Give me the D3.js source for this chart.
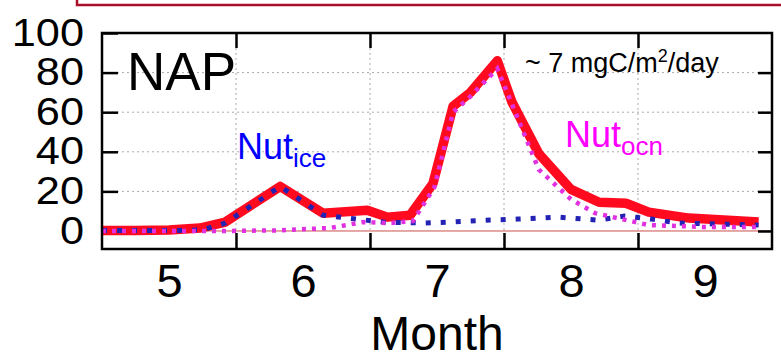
<!DOCTYPE html>
<html>
<head>
<meta charset="utf-8">
<script src="https://cdn.jsdelivr.net/npm/d3@7"></script>
<style>
  body { margin: 0; background: #fff; }
  svg { display: block; font-family: "Liberation Sans", Arial, sans-serif; }
</style>
</head>
<body>
<svg id="chart" width="781" height="359"></svg>
<script>
// series values (x in fractional month, y in NPP units)
const totalMonth = [5.00, 5.25, 5.50, 5.73, 5.92, 6.33, 6.65, 6.98, 7.13, 7.30, 7.47, 7.62, 7.75, 7.95, 8.06, 8.26, 8.50, 8.71, 8.91, 9.08, 9.38, 9.90];
const totalVal   = [0.3, 0.3, 0.5, 1.5, 4.5, 22.5, 9, 10.5, 7, 8, 24, 63, 70, 86, 65, 39, 21, 14.5, 14, 9.5, 6.5, 4.5];

const iceMonth = [5.00, 5.50, 5.75, 5.92, 6.33, 6.65, 6.90, 7.10, 7.40, 7.60, 7.90, 8.10, 8.40, 8.70, 8.90, 9.10, 9.30, 9.90];
const iceVal   = [0.2, 0.2, 0.5, 4, 22.5, 8, 6, 4.5, 4, 4.5, 5.5, 6, 7, 5.5, 7.5, 6, 4, 3];

const ocnMonth = [5.00, 5.90, 6.30, 6.70, 6.95, 7.15, 7.32, 7.48, 7.62, 7.75, 7.95, 8.06, 8.26, 8.50, 8.68, 8.88, 9.08, 9.50, 9.90];
const ocnVal   = [0, 0, 0.3, 1.5, 4.5, 4, 5, 22, 60, 68, 82, 64, 31, 16, 9, 6, 3, 2, 2];

const yTicks = [0, 20, 40, 60, 80, 100];
const gridY = [20, 40, 60, 80];
const monthBounds = [6, 7, 8, 9];
const monthLabels = ["5", "6", "7", "8", "9"];

const svg = d3.select("#chart");
const pLeft = 102, pRight = 772, pTop = 33, pBottom = 249;

const x = d3.scaleLinear().domain([5, 10]).range([pLeft, pRight]);
const y = d3.scaleLinear().domain([-9.1, 100]).range([pBottom, pTop]);

// header box border at the very top
svg.append("rect")
  .attr("x", 77).attr("y", -10)
  .attr("width", 781).attr("height", 15)
  .attr("fill", "none")
  .attr("stroke", "#a8102a")
  .attr("stroke-width", 2.5);

// dotted grid
svg.append("g").selectAll("line").data(gridY).join("line")
  .attr("x1", pLeft).attr("x2", pRight)
  .attr("y1", d => y(d)).attr("y2", d => y(d))
  .attr("stroke", "#aaa").attr("stroke-width", 1).attr("stroke-dasharray", "2,3");
svg.append("g").selectAll("line").data(monthBounds).join("line")
  .attr("x1", d => x(d)).attr("x2", d => x(d))
  .attr("y1", pTop).attr("y2", pBottom)
  .attr("stroke", "#aaa").attr("stroke-width", 1).attr("stroke-dasharray", "2,3");

// thin zero line
svg.append("line")
  .attr("x1", pLeft).attr("x2", pRight)
  .attr("y1", y(0)).attr("y2", y(0))
  .attr("stroke", "#c8504a").attr("stroke-width", 1);

// axes
const tickStyle = g => g.call(g => g.select(".domain").remove())
  .call(g => g.selectAll(".tick line").attr("stroke", "#000").attr("stroke-width", 2.5));

// y labels: slightly wide digits, as in the reference
svg.append("g")
  .attr("transform", `translate(${pLeft},0)`)
  .call(d3.axisLeft(y).tickValues(yTicks).tickSize(-16).tickPadding(18))
  .call(tickStyle)
  .call(g => g.selectAll(".tick text")
    .attr("font-size", 38).attr("fill", "#000")
    .attr("font-family", "Liberation Sans, Arial, sans-serif")
    .attr("transform", "translate(-18,0) scale(1.14,1) translate(18,0)"));

svg.append("g")
  .attr("transform", `translate(${pRight},0)`)
  .call(d3.axisRight(y).tickValues(yTicks.slice(0, 5)).tickSize(-14).tickFormat(""))
  .call(tickStyle);

svg.append("g")
  .attr("transform", `translate(0,${pBottom})`)
  .call(d3.axisBottom(x).tickValues(monthBounds).tickSize(-16).tickFormat(""))
  .call(tickStyle);

svg.append("g")
  .attr("transform", `translate(0,${pTop})`)
  .call(d3.axisTop(x).tickValues(monthBounds).tickSize(-15).tickFormat(""))
  .call(tickStyle);

// month labels centred in each month
svg.append("g")
  .attr("transform", `translate(0,${pBottom})`)
  .call(d3.axisBottom(x).tickValues(monthLabels.map(m => +m + 0.5)).tickSize(0).tickPadding(15)
    .tickFormat((d, i) => monthLabels[i]))
  .call(g => g.select(".domain").remove())
  .call(g => g.selectAll(".tick text").attr("font-size", 47).attr("fill", "#000")
    .attr("font-family", "Liberation Sans, Arial, sans-serif"));

// series
const line = d3.line().x(d => x(d[0])).y(d => y(d[1]));

svg.append("path")
  .datum(d3.zip(totalMonth, totalVal))
  .attr("d", line)
  .attr("fill", "none")
  .attr("stroke", "#ff0a1e")
  .attr("stroke-width", 9.5)
  .attr("stroke-linejoin", "round");

svg.append("path")
  .datum(d3.zip(iceMonth, iceVal))
  .attr("d", line)
  .attr("fill", "none")
  .attr("stroke", "#2222b4")
  .attr("stroke-width", 5)
  .attr("stroke-dasharray", "5,10");

svg.append("path")
  .datum(d3.zip(ocnMonth, ocnVal))
  .attr("d", line)
  .attr("fill", "none")
  .attr("stroke", "#e030e0")
  .attr("stroke-width", 4.5)
  .attr("stroke-dasharray", "4,6");

// frame
svg.append("rect")
  .attr("x", pLeft).attr("y", pTop)
  .attr("width", pRight - pLeft).attr("height", pBottom - pTop)
  .attr("fill", "none").attr("stroke", "#000").attr("stroke-width", 2.5);

// texts
svg.append("text").attr("x", 127).attr("y", 90)
  .attr("font-size", 53).attr("fill", "#000").text("NAP");

const ice = svg.append("text").attr("x", 237).attr("y", 159)
  .attr("font-size", 36).attr("fill", "#0000ff");
ice.append("tspan").text("Nut");
ice.append("tspan").attr("font-size", 26).attr("dy", 8).text("ice");

const ocn = svg.append("text").attr("x", 565).attr("y", 147)
  .attr("font-size", 36).attr("fill", "#ff00ff");
ocn.append("tspan").text("Nut");
ocn.append("tspan").attr("font-size", 26).attr("dy", 8).text("ocn");

const unit = svg.append("text").attr("x", 525).attr("y", 72)
  .attr("font-size", 27).attr("fill", "#000");
unit.append("tspan").text("~ 7 mgC/m");
unit.append("tspan").attr("font-size", 18).attr("dy", -10).text("2");
unit.append("tspan").attr("dy", 10).text("/day");

svg.append("text").attr("x", (pLeft + pRight) / 2).attr("y", 350)
  .attr("text-anchor", "middle")
  .attr("font-size", 48).attr("fill", "#000").text("Month");
</script>
</body>
</html>
